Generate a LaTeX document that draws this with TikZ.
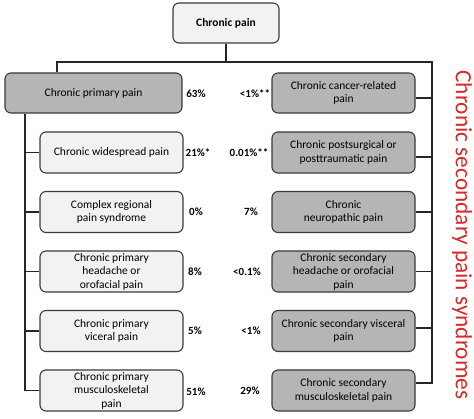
\documentclass[tikz,border=0pt]{standalone}
\usepackage{fontspec}
\setmainfont{Carlito}
\definecolor{boxline}{HTML}{3A3A3A}
\definecolor{lightfill}{HTML}{F2F2F2}
\definecolor{darkfill}{HTML}{B5B5B5}
\definecolor{redc}{HTML}{D42A2A}
\begin{document}
\begin{tikzpicture}[x=1pt,y=-1pt,
  box/.style={draw=boxline, line width=1.1pt, rounded corners=6pt, align=center, inner sep=0pt, font=\fontsize{11.5}{13.5}\selectfont, minimum height=41pt},
  light/.style={box, fill=lightfill, minimum width=143pt},
  dark/.style={box, fill=darkfill, minimum width=143pt},
  pct/.style={font=\fontsize{11}{12}\selectfont\bfseries, inner sep=0pt},
  conn/.style={draw=black!85, line width=1.3pt}]
\useasboundingbox (0,0) rectangle (474,419);
% top
\node[box, fill=lightfill, minimum width=106pt, minimum height=40pt, font=\fontsize{11.5}{13}\selectfont\bfseries] (cp) at (226,23) {Chronic pain};
\node[box, fill=darkfill, minimum width=177pt, minimum height=40pt] (pp) at (93.5,93) {Chronic primary pain};
\node[dark, minimum height=40pt] (rc) at (343.5,93) {Chronic cancer-related\\pain};
% left column
\node[light] (lw) at (111.5,152.5) {Chronic widespread pain};
\node[light] (lc) at (111.5,212) {Complex regional\\pain syndrome};
\node[light] (lh) at (111.5,271.5) {Chronic primary\\headache or\\orofacial pain};
\node[light] (lv) at (111.5,331) {Chronic primary\\viceral pain};
\node[light] (lm) at (111.5,390.5) {Chronic primary\\musculoskeletal\\pain};
% right column
\node[dark] (rp) at (343.5,152.5) {Chronic postsurgical or\\posttraumatic pain};
\node[dark] (rn) at (343.5,212) {Chronic\\neuropathic pain};
\node[dark] (rh) at (343.5,271.5) {Chronic secondary\\headache or orofacial\\pain};
\node[dark] (rv) at (343.5,331) {Chronic secondary visceral\\pain};
\node[dark] (rm) at (343.5,390.5) {Chronic secondary\\musculoskeletal pain};
% percentages
\node[pct] (p1) at (196,94) {63\%};
\node[pct] (p2) at (198,152.5) {21\%*};
\node[pct] (p3) at (196,212) {0\%};
\node[pct] (p4) at (195,271.5) {8\%};
\node[pct] (p5) at (195,331) {5\%};
\node[pct] (p6) at (196,392) {51\%};
\node[pct] (q1) at (255,94) {<1\%**};
\node[pct] (q2) at (249,152.5) {0.01\%**};
\node[pct] (q3) at (251,212) {7\%};
\node[pct] (q4) at (247,271.5) {<0.1\%};
\node[pct] (q5) at (251,331) {<1\%};
\node[pct] (q6) at (250,391) {29\%};
% side title
\node[rotate=-90, text=redc, font=\fontsize{23.3}{25}\selectfont, inner sep=0pt] (title) at (462,235) {Chronic secondary pain syndromes};
% connectors
\coordinate (hl) at (57,62);
\coordinate (hr) at (432,62);
\coordinate (lvx) at (25,0);
\coordinate (rce) at ([yshift=-5pt]rc.east);
\coordinate (rpe) at ([yshift=-4.5pt]rp.east);
\coordinate (rve) at ([yshift=3pt]rv.east);
\coordinate (rme) at ([yshift=7.5pt]rm.east);
\draw[conn] (cp.south) -- (cp.south |- hl);
\draw[conn] (hl |- pp.north) -- (hl) -- (hr) |- (rme);
\draw[conn] (rce) -- (rce -| hr);
\draw[conn] (rpe) -- (rpe -| hr);
\draw[conn] (rn.east) -- (rn.east -| hr);
\draw[conn] (rh.east) -- (rh.east -| hr);
\draw[conn] (rve) -- (rve -| hr);
\draw[conn] (pp.south -| lvx) |- (lm.west);
\draw[conn] (lvx |- lw.west) -- (lw.west);
\draw[conn] (lvx |- lc.west) -- (lc.west);
\draw[conn] (lvx |- lh.west) -- (lh.west);
\draw[conn] (lvx |- lv.west) -- (lv.west);
\end{tikzpicture}
\end{document}
